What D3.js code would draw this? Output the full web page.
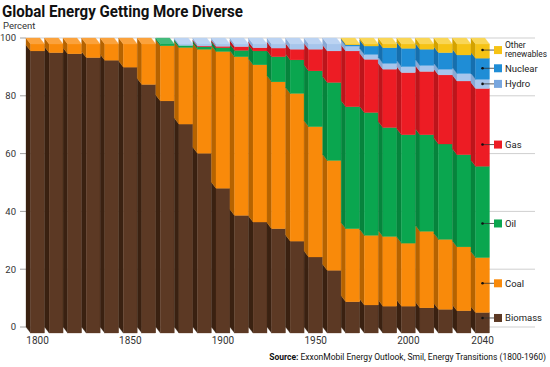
<!DOCTYPE html>
<html>
<head>
<meta charset="utf-8">
<script src="https://cdn.jsdelivr.net/npm/d3@7"></script>
<style>
  body { margin: 0; background: #fff; }
  svg { display: block; }
  text { font-family: Roboto, "Liberation Sans", sans-serif; }
</style>
</head>
<body>
<div id="container"></div>
<script>
var WIDTH = 550;
var HEIGHT = 367;

// data, percent of global energy
const years = [1800, 1810, 1820, 1830, 1840, 1850, 1860, 1870, 1880, 1890, 1900, 1910, 1920,
               1930, 1940, 1950, 1960, 1970, 1980, 1990, 2000, 2010, 2020, 2030, 2040];
const biomass = [97.6, 97.0, 96.6, 95.3, 94.4, 92.0, 86.0, 80.3, 72.3, 62.2, 50.1, 40.7, 38.4,
                 36.1, 31.8, 26.3, 21.7, 10.8, 9.7, 9.3, 9.3, 8.7, 8.2, 7.7, 7.1];
const coal = [2.4, 3.0, 3.4, 4.7, 5.6, 8.0, 14.0, 19.1, 26.5, 36.0, 47.3, 54.9, 54.4,
              50.8, 51.1, 45.1, 38.0, 25.3, 24.1, 24.1, 21.8, 26.5, 24.2, 22.1, 19.0];
const oil = [0, 0, 0, 0, 0, 0, 0, 0.6, 0.7, 0.8, 1.3, 2.2, 4.8,
             8.7, 11.6, 19.3, 27.0, 42.2, 42.5, 37.7, 37.5, 33.4, 33.0, 31.9, 31.6];
const gas = [0, 0, 0, 0, 0, 0, 0, 0, 0, 0.3, 0.5, 1.3, 1.1,
             3.0, 3.7, 7.5, 10.9, 19.3, 18.4, 20.2, 21.5, 21.9, 23.9, 25.5, 26.9];
const hydro = [0, 0, 0, 0, 0, 0, 0, 0, 0.5, 0.7, 0.8, 0.9, 1.3,
               1.4, 1.8, 1.8, 2.4, 1.7, 1.7, 2.0, 2.1, 2.1, 2.0, 2.6, 3.2];
const nuclear = [0, 0, 0, 0, 0, 0, 0, 0, 0, 0, 0, 0, 0,
                 0, 0, 0, 0, 0.4, 2.9, 5.4, 6.3, 5.6, 5.7, 6.4, 7.3];
const other = [0, 0, 0, 0, 0, 0, 0, 0, 0, 0, 0, 0, 0,
               0, 0, 0, 0, 0.3, 0.7, 1.3, 1.5, 1.8, 3.0, 3.8, 4.9];

const sources = ['Biomass', 'Coal', 'Oil', 'Gas', 'Hydro', 'Nuclear', 'Other renewables'];
const yTicks = [0, 20, 40, 60, 80, 100];
const xLabels = [1800, 1850, 1900, 1950, 2000, 2040];

// colours: front, side, top, legend swatch
const COLORS = {
  'Biomass':          { front: '#5c3924', side: '#3a2111', top: '#7a5038', key: '#5c3924' },
  'Coal':             { front: '#f98a0a', side: '#b66300', top: '#fba23c', key: '#f98a0a' },
  'Oil':              { front: '#0aa64f', side: '#06843c', top: '#43bb7c', key: '#0aa64f' },
  'Gas':              { front: '#ed1c24', side: '#bd151b', top: '#f25a60', key: '#ed1c24' },
  'Hydro':            { front: '#a7c5ec', side: '#88a8d4', top: '#bcd3f2', key: '#78a6de' },
  'Nuclear':          { front: '#1f8dd6', side: '#166fae', top: '#4ea6e2', key: '#1f8dd6' },
  'Other renewables': { front: '#f6c315', side: '#d3a200', top: '#f9d657', key: '#f6c315' }
};

// where each legend label sits (percent level on the 2040 bar)
const LABEL_AT = { 'Biomass': 5.2, 'Coal': 17.2, 'Oil': 37.9, 'Gas': 65.2,
                   'Hydro': 86.2, 'Nuclear': 91.6, 'Other renewables': 97.9 };

const DX = 4.6;   // depth offset of the boxes
const DY = 6;

const table = years.map((yr, i) => ({
  year: yr,
  'Biomass': biomass[i], 'Coal': coal[i], 'Oil': oil[i], 'Gas': gas[i],
  'Hydro': hydro[i], 'Nuclear': nuclear[i], 'Other renewables': other[i]
}));

const stacked = d3.stack().keys(sources)(table);

const svg = d3.select('#container')
  .append('svg')
    .attr('width', WIDTH)
    .attr('height', HEIGHT);

const x = d3.scaleBand()
  .domain(years)
  .range([26, 489.5])
  .padding(0);

const y = d3.scaleLinear()
  .domain([0, 100])
  .range([327, 38]);

// gridlines
svg.selectAll('.grid')
  .data(yTicks)
  .enter()
  .append('line')
    .attr('class', 'grid')
    .attr('x1', 26)
    .attr('x2', 535)
    .attr('y1', d => y(d))
    .attr('y2', d => y(d))
    .attr('stroke', '#cfcfcf')
    .attr('stroke-width', 1);

// y axis ticks and labels
svg.selectAll('.ytick')
  .data(yTicks)
  .enter()
  .append('line')
    .attr('x1', 20)
    .attr('x2', 26)
    .attr('y1', d => y(d))
    .attr('y2', d => y(d))
    .attr('stroke', '#a0a0a0');

svg.selectAll('.ylabel')
  .data(yTicks)
  .enter()
  .append('text')
    .attr('x', 16)
    .attr('y', d => y(d))
    .attr('dy', '0.35em')
    .attr('text-anchor', 'end')
    .attr('fill', '#333')
    .style('font-size', '9.5px')
    .text(d => d);

// boxes
const bars = svg.append('g');

stacked.forEach(layer => {
  const c = COLORS[layer.key];
  layer.forEach(seg => {
    const v0 = seg[0], v1 = seg[1];
    if (v1 - v0 <= 0) return;
    const b0 = x(seg.data.year);
    const f0 = b0 + DX;
    const f1 = b0 + x.bandwidth();

    bars.append('polygon')
      .attr('points', [[b0, y(v1)], [f0, y(v1) + DY], [f0, y(v0) + DY], [b0, y(v0)]].join(' '))
      .attr('fill', c.side)
      .attr('stroke', c.side)
      .attr('stroke-width', 0.3);

    bars.append('rect')
      .attr('x', f0)
      .attr('y', y(v1) + DY)
      .attr('width', f1 - f0)
      .attr('height', y(v0) - y(v1))
      .attr('fill', c.front)
      .attr('stroke', c.front)
      .attr('stroke-width', 0.3);
  });
});

// top faces, coloured by the highest segment of each bar
table.forEach(d => {
  let topKey = sources[0];
  sources.forEach(k => { if (d[k] > 0) topKey = k; });
  const b0 = x(d.year);
  const f0 = b0 + DX;
  const f1 = b0 + x.bandwidth();
  const t = y(100);
  bars.append('polygon')
    .attr('points', [[b0, t], [f1 - DX, t], [f1, t + DY], [f0, t + DY]].join(' '))
    .attr('fill', COLORS[topKey].top)
    .attr('stroke', COLORS[topKey].top)
    .attr('stroke-width', 0.3);
});

// x labels
svg.selectAll('.xlabel')
  .data(xLabels)
  .enter()
  .append('text')
    .attr('x', d => x(d) + DX + (x.bandwidth() - DX) / 2)
    .attr('y', 344)
    .attr('text-anchor', 'middle')
    .attr('fill', '#333')
    .style('font-size', '10px')
    .text(d => d);

// legend with leader lines from the 2040 bar
const last = years[years.length - 1];
const dotX = x(last) + DX + (x.bandwidth() - DX) / 2;

const legend = svg.selectAll('.legend')
  .data(sources)
  .enter()
  .append('g')
    .attr('class', 'legend')
    .attr('transform', d => `translate(0, ${y(LABEL_AT[d]) + DY})`);

legend.append('line')
  .attr('x1', dotX)
  .attr('x2', 494)
  .attr('y1', 0)
  .attr('y2', 0)
  .attr('stroke', '#333')
  .attr('stroke-width', 0.8);

legend.append('circle')
  .attr('cx', dotX)
  .attr('cy', 0)
  .attr('r', 1.3)
  .attr('fill', '#111');

legend.append('rect')
  .attr('x', 494)
  .attr('y', -4)
  .attr('width', 8)
  .attr('height', 8)
  .attr('fill', d => COLORS[d].key);

legend.each(function(d) {
  const g = d3.select(this);
  if (d === 'Other renewables') {
    g.append('text')
      .attr('x', 505).attr('y', -2.5)
      .attr('fill', '#222').style('font-size', '8.5px')
      .text('Other');
    g.append('text')
      .attr('x', 505).attr('y', 6.5)
      .attr('fill', '#222').style('font-size', '8.5px')
      .attr('textLength', 42).attr('lengthAdjust', 'spacingAndGlyphs')
      .text('renewables');
  } else {
    g.append('text')
      .attr('x', 505).attr('y', 0).attr('dy', '0.35em')
      .attr('fill', '#222').style('font-size', '9.5px')
      .text(d);
  }
});

// title and notes
svg.append('text')
  .attr('x', 2)
  .attr('y', 17)
  .attr('fill', '#111')
  .attr('textLength', 241)
  .attr('lengthAdjust', 'spacingAndGlyphs')
  .style('font-size', '16px')
  .style('font-weight', 'bold')
  .text('Global Energy Getting More Diverse');

svg.append('text')
  .attr('x', 3)
  .attr('y', 29)
  .attr('fill', '#333')
  .style('font-size', '9.5px')
  .text('Percent');

const src = svg.append('text')
  .attr('x', 546)
  .attr('y', 360)
  .attr('text-anchor', 'end')
  .attr('fill', '#111')
  .style('font-size', '8.5px');
src.append('tspan').style('font-weight', 'bold').text('Source:');
src.append('tspan').text(' ExxonMobil Energy Outlook, Smil, Energy Transitions (1800-1960)');
</script>
</body>
</html>
